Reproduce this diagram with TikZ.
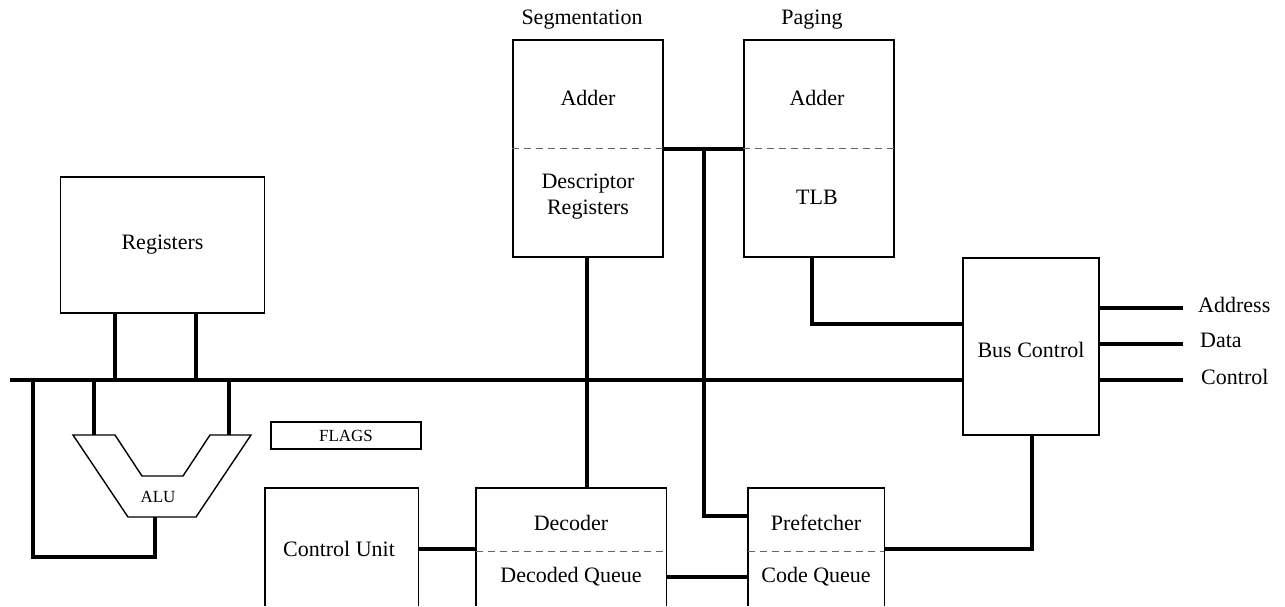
\documentclass[tikz,border=0pt]{standalone}
\usepackage{fontspec}
\setmainfont{Liberation Serif}
\begin{document}
\begin{tikzpicture}[x=1pt,y=-1pt,
  box/.style={draw, line width=1.4pt, inner sep=0pt},
  openbox/.style={inner sep=0pt},
  lbl/.style={inner sep=0pt, font=\fontsize{22}{26}\selectfont, align=center},
  smalllbl/.style={inner sep=0pt, font=\fontsize{17}{20}\selectfont},
  wire/.style={line width=4pt},
  sep/.style={draw=black!60, line width=0.9pt, dash pattern=on 7pt off 5pt},
  thinline/.style={line width=1.4pt}]
\useasboundingbox (0,0) rectangle (1285,606);

% Registers
\node[box, minimum width=204pt, minimum height=136pt] (reg) at (162.5,245) {};
\node[lbl] (regt) at (reg.center) {Registers};

% Segmentation
\node[box, minimum width=150pt, minimum height=217pt] (seg) at (588,148.5) {};
\node[lbl] (segtitle) at (582,20) {Segmentation};
\node[lbl] (segadd) at (588,98) {Adder};
\node[lbl] (segdesc) at (588,197) {Descriptor\\Registers};
\draw[sep] (seg.west) -- (seg.east);

% Paging
\node[box, minimum width=150pt, minimum height=217pt] (pag) at (819,148.5) {};
\node[lbl] (pagtitle) at (812,20) {Paging};
\node[lbl] (pagadd) at (817,98) {Adder};
\node[lbl] (tlb) at (817,197) {TLB};
\draw[sep] (pag.west) -- (pag.east);

% Bus Control
\node[box, minimum width=136pt, minimum height=177pt] (bc) at (1031,346.5) {};
\node[lbl] (bct) at (1031,350) {Bus Control};

% FLAGS
\node[box, minimum width=150pt, minimum height=27pt] (flags) at (346,435.5) {};
\node[smalllbl] (flagst) at (flags.center) {FLAGS};

% Control Unit (open at bottom)
\node[openbox, minimum width=153pt, minimum height=118pt] (cu) at (341.5,547) {};
\draw[thinline] (cu.south west) -- (cu.north west) -- (cu.north east) -- (cu.south east);
\node[lbl] (cut) at (339,549) {Control Unit};

% Decoder (open at bottom)
\node[openbox, minimum width=190pt, minimum height=118pt] (dec) at (571,547) {};
\draw[thinline] (dec.south west) -- (dec.north west) -- (dec.north east) -- (dec.south east);
\coordinate (decmidL) at (476,551);
\coordinate (decmidR) at (666,551);
\draw[sep] (decmidL) -- (decmidR);
\node[lbl] (dect) at (571,523) {Decoder};
\node[lbl] (decq) at (571,577) {Decoded Queue};

% Prefetcher (open at bottom)
\node[openbox, minimum width=136pt, minimum height=118pt] (pre) at (816,547) {};
\draw[thinline] (pre.south west) -- (pre.north west) -- (pre.north east) -- (pre.south east);
\coordinate (premidL) at (748,551);
\coordinate (premidR) at (884,551);
\draw[sep] (premidL) -- (premidR);
\node[lbl] (pret) at (816,523) {Prefetcher};
\node[lbl] (preq) at (816,577) {Code Queue};

% ALU
\coordinate (a1) at (73,435);
\coordinate (a2) at (115,435);
\coordinate (a3) at (142,476);
\coordinate (a4) at (183,476);
\coordinate (a5) at (210,435);
\coordinate (a6) at (251,435);
\coordinate (a7) at (196,517);
\coordinate (a8) at (128,517);
\draw[thinline, line join=miter] (a1) -- (a2) -- (a3) -- (a4) -- (a5) -- (a6) -- (a7) -- (a8) -- cycle;
\node[smalllbl] (alut) at (158,497) {ALU};

% Main bus
\coordinate (busL) at (10,380);
\draw[wire] (busL) -- (busL -| bc.west);

% Registers to bus
\draw[wire] (reg.south -| 115,0) -- (115,380);
\draw[wire] (reg.south -| 196,0) -- (196,380);

% bus to ALU inputs
\draw[wire] (94,380) -- (94,435);
\draw[wire] (229,380) -- (229,435);

% ALU output feedback
\draw[wire] (155,517) -- (155,557) -- (33,557) -- (33,380);

% Segmentation-Paging link and to prefetcher
\draw[wire] (seg.east) -- (pag.west);
\draw[wire] (704,148.5) -- (704,516) -- (pre.west |- 0,516);

% Segmentation to Decoder
\draw[wire] (seg.south -| 587,0) -- (dec.north -| 587,0);

% TLB to Bus Control
\draw[wire] (pag.south -| 812,0) -- (812,324) -- (bc.west |- 0,324);

% Control unit to decoder
\draw[wire] (cu.east |- 0,549) -- (dec.west |- 0,549);

% Decoded queue to code queue
\draw[wire] (dec.east |- 0,577) -- (pre.west |- 0,577);

% Prefetcher to bus control
\draw[wire] (pre.east |- 0,549) -- (1032,549) -- (bc.south -| 1032,0);

% Bus control outputs
\coordinate (addrE) at (1183,308);
\coordinate (dataE) at (1183,344);
\coordinate (ctrlE) at (1183,380);
\draw[wire] (bc.east |- addrE) -- (addrE);
\draw[wire] (bc.east |- dataE) -- (dataE);
\draw[wire] (bc.east |- ctrlE) -- (ctrlE);
\node[lbl, anchor=west] (addrt) at (1198,305) {Address};
\node[lbl, anchor=west] (datat) at (1200,340) {Data};
\node[lbl, anchor=west] (ctrlt) at (1201,377) {Control};
\end{tikzpicture}
\end{document}
